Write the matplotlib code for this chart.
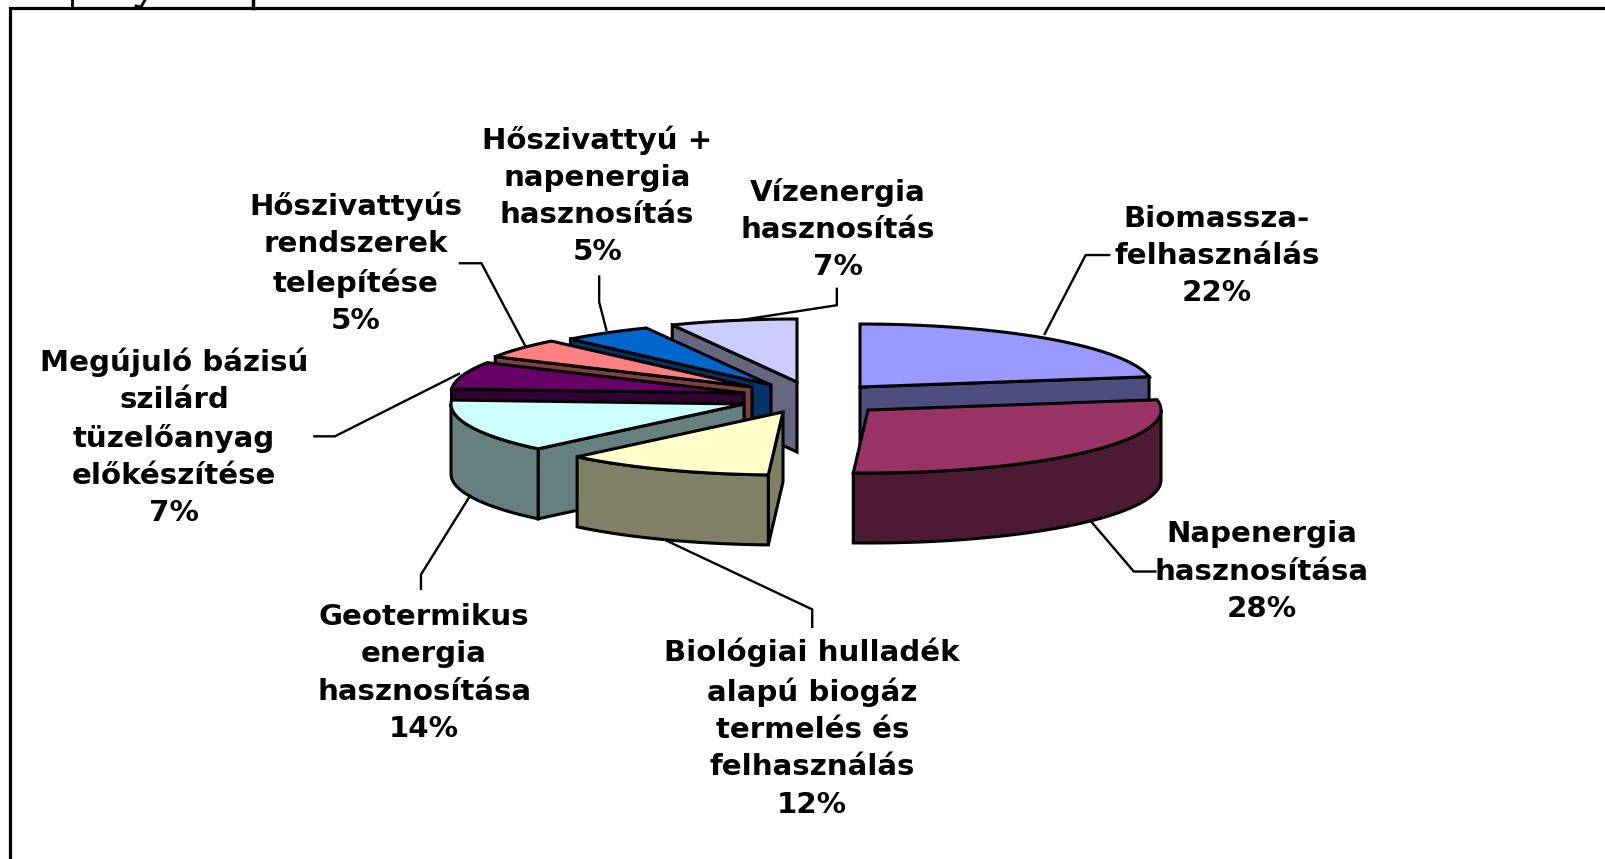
import numpy as np
import matplotlib
matplotlib.use("Agg")
import matplotlib.pyplot as plt
from matplotlib.patches import Polygon

categories = ["Biomassza-\nfelhasználás", "Napenergia\nhasznosítása",
              "Biológiai hulladék\nalapú biogáz\ntermelés és\nfelhasználás",
              "Geotermikus\nenergia\nhasznosítása",
              "Megújuló bázisú\nszilárd\ntüzelőanyag\nelőkészítése",
              "Hőszivattyús\nrendszerek\ntelepítése",
              "Hőszivattyú +\nnapenergia\nhasznosítás",
              "Vízenergia\nhasznosítás"]
values = [22.4, 28.4, 11.6, 13.6, 7.0, 5.0, 5.0, 7.0]
top_colors = ["#9999FF", "#993366", "#FFFFCC", "#CCFFFF", "#660066", "#FF8080", "#0066CC", "#CCCCFF"]
side_colors = ["#4D4D80", "#4D1A33", "#808066", "#668080", "#330033", "#804040", "#003366", "#666680"]

# layout (pixels)
apex = [(860, 387), (868, 410), (783, 412), (744, 404), (744, 393), (752, 387), (771, 385), (797, 382)]
RX, RY, DEPTH = 293, 63, 70
draw_order = [7, 6, 5, 4, 0, 1, 3, 2]
S = 1606 / 1568
label_pos = [(1188, 250), (1232, 558), (793, 711), (414, 657), (170, 427), (347, 257), (583, 191), (818, 224)]
leaders = [[(1083, 249), (1060, 249), (1020, 326)],
           [(1128, 558), (1107, 558), (1066, 510)],
           [(793, 612), (793, 595), (651, 528)],
           [(411, 575), (411, 561), (459, 484)],
           [(307, 426), (327, 426), (448, 365)],
           [(449, 257), (470, 257), (513, 338)],
           [(585, 270), (585, 295), (592, 322)],
           [(817, 282), (817, 298), (720, 313)]]

fig = plt.figure(figsize=(16.06, 8.59), dpi=100, facecolor="white")
ax = fig.add_axes([0, 0, 1, 1])
ax.set_xlim(0, 1606)
ax.set_ylim(859, 0)
ax.axis("off")

LW = 2.2
kw = dict(edgecolor="black", linewidth=LW, joinstyle="miter")


def pt(c, th):
    r = np.radians(th)
    return np.column_stack([c[0] + RX * np.sin(r), c[1] - RY * np.cos(r)])


edges = np.concatenate([[0], np.cumsum(values)]) * 3.6
for i in draw_order:
    c, t1, t2 = apex[i], edges[i], edges[i + 1]
    down = np.array([0, DEPTH])
    # radial wall facing the viewer
    if t2 < 180:
        p = pt(c, np.array([t2]))[0]
        ax.add_patch(Polygon([c, p, p + down, np.array(c) + down], facecolor=side_colors[i], **kw))
    if 180 < t1 < 360:
        p = pt(c, np.array([t1]))[0]
        ax.add_patch(Polygon([c, p, p + down, np.array(c) + down], facecolor=side_colors[i], **kw))
    # outer wall
    a, b = max(t1, 90), min(t2, 270)
    if b > a:
        arc = pt(c, np.linspace(a, b, 60))
        ax.add_patch(Polygon(np.vstack([arc, (arc + down)[::-1]]), facecolor=side_colors[i], **kw))
    # top
    arc = pt(c, np.linspace(t1, t2, 80))
    ax.add_patch(Polygon(np.vstack([[c], arc]), facecolor=top_colors[i], **kw))

for name, v, (x, y) in zip(categories, values, label_pos):
    ax.text(x * S, y * S, f"{name}\n{round(v)}%", ha="center", va="center", ma="center",
            family="DejaVu Sans", weight="bold", fontsize=21.1, linespacing=1.42, color="black")

for pts in leaders:
    arr = np.array(pts) * S
    ax.plot(arr[:, 0], arr[:, 1], color="black", lw=1.7, solid_joinstyle="miter")

# frame and clipped remains at top
ax.plot([10, 10, 1606], [859, 8, 8], color="black", lw=2.3, solid_joinstyle="miter")
ax.plot([72, 72], [0, 8], color="black", lw=2.0)
ax.plot([253, 253], [0, 8], color="black", lw=2.5)
ax.plot([136, 141, 145], [6, 7, 0], color="black", lw=2.0)

fig.savefig("out.png", dpi=100)
